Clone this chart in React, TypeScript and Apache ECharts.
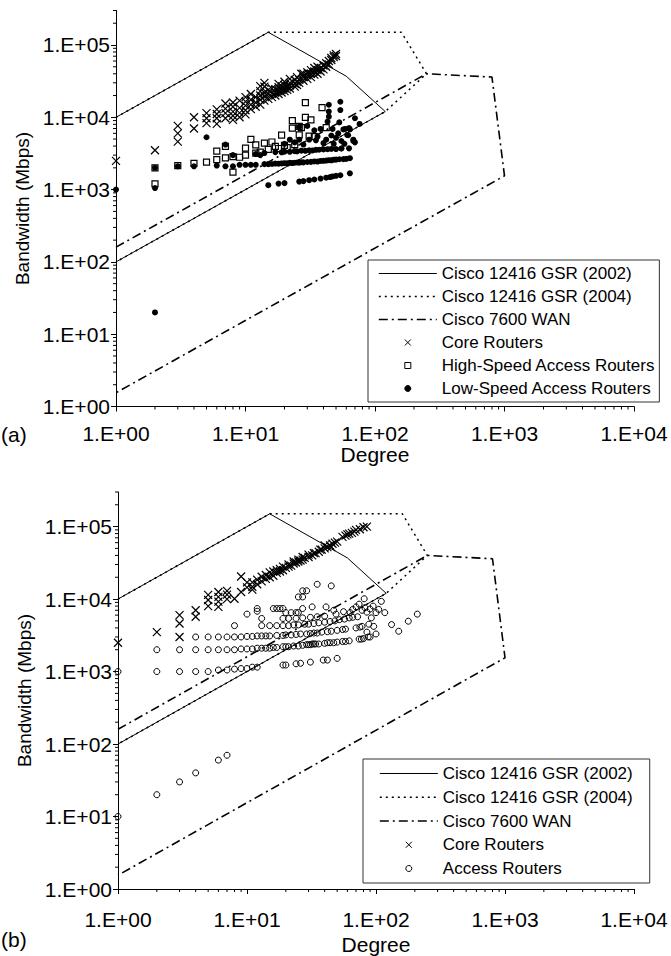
import { useEffect, useRef } from 'react';
import * as echarts from 'echarts';

const FONT = '"Liberation Sans", Arial, Helvetica, sans-serif';

// Boundary polygons (degree, bandwidth Mbps)
const GSR2002: number[][] = [[1, 10000], [15, 150000], [60, 37000], [120, 12000], [1, 100]];
const GSR2004: number[][] = [[1, 10000], [15, 150000], [160, 150000], [250, 40000], [120, 12000], [1, 100]];
const WAN7600: number[][] = [[1, 160], [250, 40000], [800, 36000], [1000, 1550], [1, 1.55]];

// Panel (a)
const CORE_A: number[][] = [
  [1, 2500], [2, 3500], [3, 4600], [3, 6000], [3, 7600], [4, 7000], [4, 10000], [5, 8300], [5, 9700], [5, 11400],
  [6, 8100], [6, 9700], [6, 11100], [6, 12900], [7, 9700], [7, 11400], [7, 13200], [7, 15500],
  [8, 9200], [8, 10500], [8, 12000], [8, 14000], [8, 16000], [9, 10000], [9, 11500], [9, 13500], [9, 17000],
  [10, 11000], [10, 12500], [10, 14500], [10, 16500], [10, 19000], [11, 13000], [11, 15000], [11, 17500], [11, 21000],
  [12, 14000], [12, 16000], [12, 19000], [13, 15000], [13, 17500], [13, 20000], [13, 23000], [13, 27000],
  [14, 17000], [14, 19500], [14, 22000], [14, 26500], [14, 30000], [15, 18000], [15, 21000], [15, 24000],
  [16, 19000], [16, 21500], [16, 25000], [17, 20000], [17, 22000], [17, 24500], [18, 21000], [18, 23000], [18, 26000], [18, 29000],
  [19, 22000], [19, 24000], [19, 27000], [20, 23000], [20, 25000], [20, 28000], [20, 31000], [21, 24000], [21, 26000],
  [22, 25000], [22, 27500], [22, 30000], [22, 34000], [24, 26500], [24, 29000], [24, 33000], [25, 28000], [25, 31000], [25, 36000],
  [26, 30000], [26, 33000], [27, 40000], [28, 32000], [28, 36000], [28, 40000], [30, 34000], [30, 38000], [30, 42000],
  [32, 36000], [32, 40000], [32, 45000], [34, 39000], [34, 43000], [34, 48000], [36, 40000], [36, 45000], [36, 50000],
  [38, 43000], [38, 48000], [40, 46000], [40, 52000], [42, 50000], [42, 56000], [44, 54000], [44, 60000],
  [46, 62000], [46, 66000], [48, 68000], [48, 72000], [50, 70000], [50, 75000]
];
const HIGH_A: number[][] = [
  [2, 1200], [2, 2000], [3, 2150], [4, 2300], [5, 2400], [6, 2600], [6, 3400], [7, 2750], [7, 3950], [8, 1750], [8, 2850],
  [9, 2800], [10, 3000], [10, 3750], [11, 4950], [12, 3200], [12, 4150], [13, 3300], [14, 4400], [15, 3600], [16, 4550],
  [17, 3950], [18, 3700], [19, 5650], [20, 4100], [21, 3800], [23, 7100], [23, 9000], [24, 4200], [26, 5700], [26, 7500],
  [27, 7200], [29, 10000], [29, 16000], [31, 5500], [32, 9200], [34, 5400], [39, 13600], [42, 7200]
];
const LOW_A: number[][] = [
  [1, 1000], [2, 20], [2, 1050], [2, 2000], [3, 2100], [4, 2100], [5, 5300], [6, 2150], [7, 4200], [7, 2100], [8, 3000], [8, 2100],
  [9, 2200], [10, 2200], [11, 2200], [12, 2200], [12, 3100], [13, 3000], [14, 2250], [14, 3200],
  [15, 2250], [16, 2260], [17, 2290], [18, 2280], [19, 2300], [20, 2320], [21, 2310], [22, 2340], [23, 2330], [24, 2350],
  [25, 2370], [26, 2360], [27, 2390], [28, 2380], [30, 2410], [32, 2420], [34, 2450], [36, 2440], [38, 2490], [40, 2500],
  [42, 2520], [44, 2550], [46, 2540], [48, 2590], [50, 2600], [53, 2630], [57, 2640], [60, 2660], [64, 2720],
  [17, 3300], [19, 3280], [20, 3350], [22, 3330], [24, 3400], [25, 3380], [27, 3450], [29, 3440], [31, 3500], [33, 3480],
  [35, 3550], [37, 3560], [40, 3600], [43, 3620], [46, 3650], [50, 3640], [55, 3700], [63, 3720],
  [15, 1150], [18, 1210], [20, 1230], [26, 1290], [28, 1310], [31, 1350], [34, 1380], [38, 1420], [42, 1460], [45, 1490],
  [47, 1520], [50, 1550], [54, 1580], [64, 1680],
  [26, 7400], [30, 7600], [34, 6600], [38, 6900], [47, 6900], [59, 6900], [63, 7100], [61, 5700], [68, 4900], [22, 4900],
  [26, 4900], [31, 4900], [42, 4900], [50, 5200], [70, 4500], [36, 5400], [44, 14900], [54, 16400], [54, 12600], [44, 12000],
  [44, 10200], [43, 8700], [70, 9700], [53, 8500], [76, 8100], [57, 6800], [64, 6800], [62, 5650], [55, 4700], [68, 4700],
  [55, 3700], [20, 4300], [24, 4500], [28, 4200], [35, 4800], [40, 4400], [46, 5600], [52, 6000], [48, 4300], [58, 4300]
];

// Panel (b)
const CORE_B: number[][] = [
  [1, 2500], [2, 3500], [3, 3000], [3, 4600], [3, 6000], [4, 5700], [4, 7000], [5, 8000], [5, 9700], [5, 11400],
  [6, 7800], [6, 9200], [6, 10700], [6, 12500], [7, 10000], [7, 11500], [7, 13000], [8, 10100], [9, 12500], [9, 20500],
  [10, 17000], [10, 14500], [11, 14800], [11, 17000], [11, 13500], [12, 16000], [12, 18500], [13, 20300], [13, 17500],
  [14, 19000], [14, 21500], [15, 20000], [15, 23400], [16, 21000], [16, 24000], [17, 23000], [17, 25000], [18, 24000], [18, 26000],
  [19, 25000], [19, 28000], [20, 27000], [21, 28000], [21, 30000], [22, 29000], [23, 31000], [23, 33000], [24, 32000],
  [25, 33000], [25, 35000], [26, 34000], [27, 35000], [27, 38000], [28, 37000], [30, 38000], [30, 41000], [32, 40000],
  [33, 43000], [34, 43000], [36, 45000], [37, 48000], [38, 48000], [40, 50000], [40, 55000], [42, 52000], [44, 55000],
  [45, 52000], [46, 58000], [48, 60000], [50, 62000], [55, 72000], [58, 75000], [60, 78000], [62, 80000], [65, 82000],
  [68, 85000], [70, 90000], [75, 92000], [80, 98000], [85, 100000]
];
const ACCESS_B: number[][] = [
  [1, 10], [1, 1000], [2, 20], [3, 30], [4, 40], [6, 60], [7, 70],
  [2, 1000], [3, 1000], [4, 1000], [5, 1000], [6, 1050], [7, 1050], [8, 1080], [9, 1100], [10, 1100], [11, 1150], [12, 1150],
  [19, 1230], [20, 1230], [24, 1280], [26, 1300], [31, 1350], [39, 1440], [42, 1440], [50, 1520],
  [2, 2000], [3, 2000], [4, 2000], [5, 2000], [6, 2000], [7, 2000], [8, 2000], [9, 2050], [10, 2050], [11, 2050], [12, 2100],
  [13, 2100], [14, 2100], [15, 2100], [16, 2150], [17, 2150], [19, 2200], [20, 2200], [21, 2200], [23, 2250], [25, 2250],
  [27, 2300], [29, 2350], [30, 2350], [31, 2350], [32, 2400], [33, 2400], [34, 2400], [36, 2400], [40, 2450], [42, 2500],
  [44, 2500], [47, 2500], [50, 2550], [55, 2600], [58, 2600], [62, 2650], [74, 2800], [77, 2800], [80, 2850],
  [4, 3000], [5, 3000], [6, 3000], [7, 3000], [8, 3000], [9, 3000], [10, 3050], [11, 3050], [12, 3100], [13, 3100], [14, 3100],
  [15, 3100], [17, 3150], [19, 3150], [20, 3200], [22, 3200], [24, 3250], [26, 3300], [29, 3300], [31, 3350], [33, 3400],
  [35, 3400], [38, 3500], [42, 3550], [45, 3600], [50, 3700], [55, 3800], [58, 3850], [70, 4000], [75, 4100], [78, 4200],
  [8, 4300], [13, 4300], [15, 4300], [17, 4300], [19, 4300], [21, 4300], [23, 4400], [25, 4400], [28, 4500], [30, 4500],
  [33, 4600], [36, 4700], [40, 4800], [44, 4900], [48, 5000], [52, 5200], [57, 5300], [62, 5500], [66, 5600], [72, 5700],
  [13, 5400], [19, 5400], [21, 5400], [24, 5400], [27, 5500], [31, 5600], [35, 5700], [40, 5800],
  [10, 6200], [12, 6800], [12, 7400], [16, 7400], [17, 7400], [18, 7400], [19, 7400], [20, 6500], [22, 6500], [24, 6500],
  [25, 6500], [27, 7400], [32, 7800], [41, 7800], [47, 7000], [49, 6200], [56, 6700], [63, 6500], [66, 7200], [70, 7800],
  [74, 8500], [78, 7000], [82, 7600], [85, 6600], [90, 7300],
  [25, 10700], [27, 10700], [29, 13000], [27, 13000], [35, 16000], [45, 15200], [81, 10100], [110, 9300], [117, 6500],
  [132, 4450], [150, 3600], [178, 4950], [209, 6200], [100, 6500], [95, 8000], [105, 7200],
  [88, 4500], [92, 5500], [96, 4200], [100, 3300], [90, 3000], [87, 3000], [85, 3500]
];

// Logarithmic minor tick positions (multiples within each decade)
const MINOR_STEPS = [2, 3, 4, 5, 6, 7, 8, 9];
const X_DECADES = [1, 10, 100, 1000];
const Y_DECADES = [1, 10, 100, 1000, 10000, 100000];
const X_MAX = 10000;
const Y_MAX = 300000;

function expLabel(v: number): string {
  const e = Math.round(Math.log10(v));
  if (Math.abs(Math.pow(10, e) - v) > 1e-6 * v) return '';
  return '1.E+' + (e < 10 ? '0' + e : String(e));
}

const black = '#000';

function xAxis(gridIndex: number, nameGap: number, margin: number) {
  return {
    type: 'log', logBase: 10, gridIndex, min: 1, max: X_MAX,
    name: 'Degree', nameLocation: 'middle', nameGap,
    nameTextStyle: { fontSize: 21, color: black, fontFamily: FONT },
    axisLine: { show: true, onZero: false, lineStyle: { color: black, width: 1 } },
    axisTick: { show: true, length: 5, lineStyle: { color: black, width: 1 } },
    minorTick: { show: false },
    splitLine: { show: false }, minorSplitLine: { show: false },
    axisLabel: { fontSize: 21, color: black, fontFamily: FONT, margin, formatter: expLabel }
  };
}
function yAxis(gridIndex: number) {
  return {
    type: 'log', logBase: 10, gridIndex, min: 1, max: Y_MAX,
    name: 'Bandwidth (Mbps)', nameLocation: 'middle', nameGap: 80, nameRotate: 90,
    nameTextStyle: { fontSize: 19, color: black, fontFamily: FONT },
    axisLine: { show: true, onZero: false, lineStyle: { color: black, width: 1 } },
    axisTick: { show: true, length: 5, lineStyle: { color: black, width: 1 } },
    minorTick: { show: false },
    splitLine: { show: false }, minorSplitLine: { show: false },
    axisLabel: { fontSize: 21, color: black, fontFamily: FONT, margin: 6, showMaxLabel: false, formatter: expLabel }
  };
}

function minorTickData(): number[][] {
  const out: number[][] = [];
  X_DECADES.forEach((d) => MINOR_STEPS.forEach((s) => { if (d * s < X_MAX) out.push([d * s, 1, 0]); }));
  Y_DECADES.forEach((d) => MINOR_STEPS.forEach((s) => { if (d * s <= Y_MAX) out.push([1, d * s, 1]); }));
  return out;
}

function minorTickSeries(idx: number) {
  return {
    type: 'custom', xAxisIndex: idx, yAxisIndex: idx, silent: true, clip: false, z: 1,
    data: minorTickData(),
    encode: { x: 0, y: 1 },
    renderItem: (_p: any, api: any) => {
      const p = api.coord([api.value(0), api.value(1)]);
      const isY = api.value(2) === 1;
      const shape = isY
        ? { x1: p[0] - 3, y1: p[1], x2: p[0], y2: p[1] }
        : { x1: p[0], y1: p[1], x2: p[0], y2: p[1] + 3 };
      return { type: 'line', shape, style: { stroke: black, lineWidth: 1 } };
    }
  };
}

const N2002 = 'Cisco 12416 GSR (2002)';
const N2004 = 'Cisco 12416 GSR (2004)';
const NWAN = 'Cisco 7600 WAN';
const NCORE = 'Core Routers';
const NHIGH = 'High-Speed Access Routers';
const NLOW = 'Low-Speed Access Routers';
const NACC = 'Access Routers';

const CROSS = 'path://M0,0L10,10M10,0L0,10';
const SQUARE = 'path://M0,0L10,0L10,10L0,10Z';

function boundarySeries(idx: number) {
  return [
    { type: 'line', name: N2004, xAxisIndex: idx, yAxisIndex: idx, data: GSR2004, symbol: 'none', clip: false,
      itemStyle: { color: black }, lineStyle: { color: black, width: 1.5, type: [2, 4] }, z: 2 },
    { type: 'line', name: N2002, xAxisIndex: idx, yAxisIndex: idx, data: GSR2002, symbol: 'none', clip: false,
      itemStyle: { color: black }, lineStyle: { color: black, width: 1, type: 'solid' }, z: 3 },
    { type: 'line', name: NWAN, xAxisIndex: idx, yAxisIndex: idx, data: WAN7600, symbol: 'none', clip: false,
      itemStyle: { color: black }, lineStyle: { color: black, width: 1.6, type: [9, 4, 2, 4] }, z: 3 }
  ];
}

function scatter(name: string, idx: number, data: number[][], kind: string) {
  let symbol = 'circle';
  let symbolSize = 6;
  let itemStyle: any = { color: black, opacity: 1 };
  if (kind === 'cross') { symbol = CROSS; symbolSize = 8; itemStyle = { color: 'rgba(0,0,0,0)', borderColor: black, borderWidth: 1.2, opacity: 1 }; }
  if (kind === 'square') { symbol = SQUARE; symbolSize = 6; itemStyle = { color: 'rgba(255,255,255,0)', borderColor: black, borderWidth: 1.2, opacity: 1 }; }
  if (kind === 'ring') { symbol = 'circle'; symbolSize = 6; itemStyle = { color: 'rgba(255,255,255,0)', borderColor: black, borderWidth: 1, opacity: 1 }; }
  return { type: 'scatter', name, xAxisIndex: idx, yAxisIndex: idx, data, symbol, symbolSize, itemStyle, clip: false, z: 4 };
}

const HIDDEN_ICON = { color: 'rgba(0,0,0,0)', borderColor: 'rgba(0,0,0,0)', borderWidth: 0, opacity: 0 };

function legendBox(left: number, top: number, padding: number[], gap: number, names: string[]) {
  return {
    show: true, orient: 'vertical', left, top, padding, itemWidth: 58, itemHeight: 6, itemGap: gap,
    borderColor: '#333', borderWidth: 1, backgroundColor: '#fff', selectedMode: false,
    textStyle: { fontSize: 17, color: black, fontFamily: FONT, lineHeight: 17 },
    itemStyle: { borderWidth: 1 },
    data: names.map((n) => {
      if (n === N2002) return { name: n, itemStyle: HIDDEN_ICON, lineStyle: { width: 1, color: black } };
      if (n === N2004) return { name: n, itemStyle: HIDDEN_ICON, lineStyle: { width: 1.5, color: black } };
      if (n === NWAN) return { name: n, itemStyle: HIDDEN_ICON, lineStyle: { width: 1.6, color: black } };
      return { name: n, itemStyle: { borderWidth: 1, borderColor: black, opacity: 1 } };
    })
  };
}

export default function App() {
  const ref = useRef<HTMLDivElement>(null);
  useEffect(() => {
    if (!ref.current) return;
    const chart = echarts.init(ref.current, undefined, { renderer: 'svg' });
    const option: any = {
      animation: false,
      backgroundColor: '#fff',
      textStyle: { fontFamily: FONT },
      grid: [
        { left: 116, top: 10.5, width: 518, height: 396, containLabel: false, outerBoundsMode: 'none' },
        { left: 118, top: 492, width: 516, height: 397, containLabel: false, outerBoundsMode: 'none' }
      ],
      xAxis: [xAxis(0, 33, 16), xAxis(1, 45, 20)],
      yAxis: [yAxis(0), yAxis(1)],
      legend: [
        legendBox(368, 260, [5, 4, 5, 10], 6, [N2002, N2004, NWAN, NCORE, NHIGH, NLOW]),
        legendBox(363, 759, [6, 17, 6, 16], 6.75, [N2002, N2004, NWAN, NCORE, NACC])
      ],
      graphic: [
        { type: 'text', left: 1, top: 424, style: { text: '(a)', fontSize: 21, fill: black, fontFamily: FONT } },
        { type: 'text', left: 1, top: 929, style: { text: '(b)', fontSize: 21, fill: black, fontFamily: FONT } }
      ],
      series: [
        minorTickSeries(0),
        ...boundarySeries(0),
        scatter(NCORE, 0, CORE_A, 'cross'),
        scatter(NHIGH, 0, HIGH_A, 'square'),
        scatter(NLOW, 0, LOW_A, 'dot'),
        minorTickSeries(1),
        ...boundarySeries(1),
        scatter(NCORE, 1, CORE_B, 'cross'),
        scatter(NACC, 1, ACCESS_B, 'ring')
      ]
    };
    chart.setOption(option);
    return () => chart.dispose();
  }, []);
  return <div ref={ref} style={{ position: 'fixed', left: 0, top: 0, width: 671, height: 956 }} />;
}
